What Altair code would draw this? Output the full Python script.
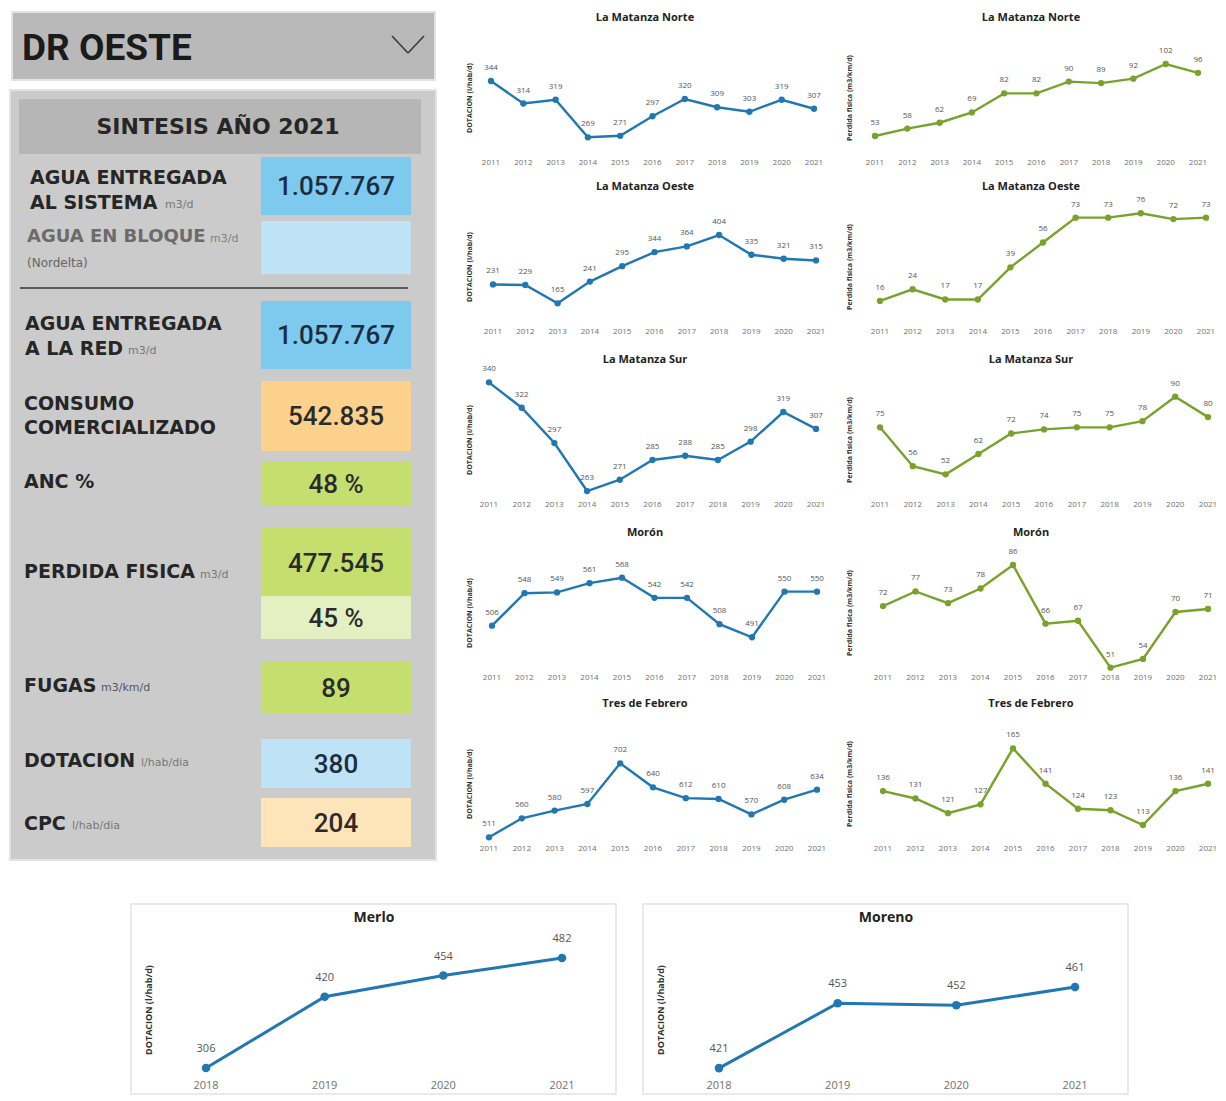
import altair as alt
import pandas as pd

# ---------------- data ----------------
YEARS = ["2011", "2012", "2013", "2014", "2015", "2016", "2017", "2018", "2019", "2020", "2021"]
DISTRICTS = ["La Matanza Norte", "La Matanza Oeste", "La Matanza Sur", "Morón", "Tres de Febrero"]

dot_la_matanza_norte = [344, 314, 319, 269, 271, 297, 320, 309, 303, 319, 307]
dot_la_matanza_oeste = [231, 229, 165, 241, 295, 344, 364, 404, 335, 321, 315]
dot_la_matanza_sur = [340, 322, 297, 263, 271, 285, 288, 285, 298, 319, 307]
dot_moron = [506, 548, 549, 561, 568, 542, 542, 508, 491, 550, 550]
dot_tres_de_febrero = [511, 560, 580, 597, 702, 640, 612, 610, 570, 608, 634]

pf_la_matanza_norte = [53, 58, 62, 69, 82, 82, 90, 89, 92, 102, 96]
pf_la_matanza_oeste = [16, 24, 17, 17, 39, 56, 73, 73, 76, 72, 73]
pf_la_matanza_sur = [75, 56, 52, 62, 72, 74, 75, 75, 78, 90, 80]
pf_moron = [72, 77, 73, 78, 86, 66, 67, 51, 54, 70, 71]
pf_tres_de_febrero = [136, 131, 121, 127, 165, 141, 124, 123, 113, 136, 141]

BOTTOM_YEARS = ["2018", "2019", "2020", "2021"]
dot_merlo = [306, 420, 454, 482]
dot_moreno = [421, 453, 452, 461]

HEADER = "DR OESTE"
SUBHEADER = "SINTESIS AÑO 2021"
kpi_values = ["1.057.767", "", "1.057.767", "542.835", "48 %", "477.545", "45 %", "89", "380", "204"]
label_main = ["AGUA ENTREGADA", "AL SISTEMA", "AGUA ENTREGADA", "A LA RED", "CONSUMO",
              "COMERCIALIZADO", "ANC %", "PERDIDA FISICA", "FUGAS", "DOTACION", "CPC"]
label_muted = ["AGUA EN BLOQUE"]
label_small = ["m3/d", "m3/d", "(Nordelta)", "m3/d", "m3/d", "m3/km/d", "l/hab/dia", "l/hab/dia"]

Y_TITLE_DOT = "DOTACION (l/hab/d)"
Y_TITLE_PF = "Perdida fisica (m3/km/d)"

# ---------------- styles / layout ----------------
F = "Open Sans"
BLUE = "#2077b2"
GREEN = "#79a22c"

# left panel (page coordinates)
PX0, PY0 = 8, 8
LEFT_W, LEFT_H = 432, 862
sx = alt.Scale(domain=[PX0, PX0 + LEFT_W], nice=False, zero=False)
sy = alt.Scale(domain=[PY0, PY0 + LEFT_H], nice=False, zero=False, reverse=True)

frame_boxes = [
    (12, 435, 12, 80, "#b9b9b9", "#e3e3e3"),
    (10, 436, 90, 860, "#cbcbcb", "#e3e3e3"),
    (20, 420, 100, 153, "#b6b6b6", "#b6b6b6"),
]
kpi_box_y = [(158, 214), (222, 273), (302, 368), (382, 450), (463, 505),
             (529, 597), (597, 638), (663, 712), (740, 787), (799, 846)]
kpi_box_fill = ["#7ec9ee", "#bfe3f6", "#7ec9ee", "#fcd18c", "#c5df6f",
                "#c5df6f", "#e4f0c1", "#c5df6f", "#bfe3f6", "#fde4b9"]
kpi_text_color = ["#1c2d40", "#1c2d40", "#1c2d40", "#2b2b2b", "#2b2b2b",
                  "#2b2b2b", "#2b2b2b", "#2b2b2b", "#1c2d40", "#2b2b2b"]
KPI_X1, KPI_X2 = 262, 410

label_main_pos = [(30, 178), (30, 203), (25, 324), (25, 349), (24, 404), (24, 428),
                  (24, 482), (24, 572), (24, 686), (24, 761), (24, 824)]
label_muted_pos = [(27, 237)]
label_small_pos = [(165, 205), (210, 239), (27, 263), (128, 351), (200, 575),
                   (101, 688), (141, 763), (72, 826)]
label_small_size = [11, 11, 12, 11, 11, 11, 11, 11]
label_small_color = ["#777777", "#808080", "#666666", "#777777", "#777777", "#555555", "#777777", "#777777"]

rect_rows = [dict(x1=a, x2=b, y1=c, y2=d, fill=f, stroke=s) for a, b, c, d, f, s in frame_boxes]
rect_rows += [dict(x1=KPI_X1, x2=KPI_X2, y1=y1, y2=y2, fill=f, stroke=f)
              for (y1, y2), f in zip(kpi_box_y, kpi_box_fill)]
rect_df = pd.DataFrame(rect_rows)

rects = alt.Chart(rect_df).mark_rect(strokeWidth=2).encode(
    x=alt.X("x1:Q", scale=sx, axis=None), x2="x2:Q",
    y=alt.Y("y1:Q", scale=sy, axis=None), y2="y2:Q",
    color=alt.Color("fill:N", scale=None),
    stroke=alt.Stroke("stroke:N", scale=None),
)

rule_df = pd.DataFrame([
    dict(x1=392, x2=408, y1=36, y2=53, c="#3a3a3a", w=1.6),
    dict(x1=408, x2=424, y1=53, y2=36, c="#3a3a3a", w=1.6),
    dict(x1=20, x2=408, y1=288, y2=288, c="#5a5a5a", w=2.2),
])
rules = alt.Chart(rule_df).mark_rule().encode(
    x=alt.X("x1:Q", scale=sx, axis=None), x2="x2:Q",
    y=alt.Y("y1:Q", scale=sy, axis=None), y2="y2:Q",
    color=alt.Color("c:N", scale=None),
    strokeWidth=alt.StrokeWidth("w:Q", scale=None),
)


def txt_df(texts, pos, **extra):
    d = pd.DataFrame({"text": texts, "x": [p[0] for p in pos], "y": [p[1] for p in pos]})
    for k, v in extra.items():
        d[k] = v
    return d


enc_xy = dict(x=alt.X("x:Q", scale=sx, axis=None), y=alt.Y("y:Q", scale=sy, axis=None), text="text:N")

header = alt.Chart(txt_df([HEADER], [(22, 49)])).mark_text(
    align="left", font="Roboto", fontWeight="bold", fontSize=37, color="#1b1b1b").encode(**enc_xy)
subheader = alt.Chart(txt_df([SUBHEADER], [(218, 127)])).mark_text(
    align="center", font="DejaVu Sans", fontWeight="bold", fontSize=22, color="#262626").encode(**enc_xy)
main_lbl = alt.Chart(txt_df(label_main, label_main_pos)).mark_text(
    align="left", font="DejaVu Sans", fontWeight="bold", fontSize=19, color="#262626").encode(**enc_xy)
muted_lbl = alt.Chart(txt_df(label_muted, label_muted_pos)).mark_text(
    align="left", font="DejaVu Sans", fontWeight="bold", fontSize=18, color="#6b6b6b").encode(**enc_xy)
small_lbl = alt.Chart(txt_df(label_small, label_small_pos, fs=label_small_size, c=label_small_color)).mark_text(
    align="left", font="DejaVu Sans").encode(
    size=alt.Size("fs:Q", scale=None), color=alt.Color("c:N", scale=None), **enc_xy)
val_pos = [((KPI_X1 + KPI_X2) / 2, (a + b) / 2 + 1) for a, b in kpi_box_y]
values_lbl = alt.Chart(txt_df(kpi_values, val_pos, c=kpi_text_color)).mark_text(
    align="center", font="Roboto", fontSize=26, fontWeight=500).encode(
    color=alt.Color("c:N", scale=None), **enc_xy)

left_panel = alt.layer(rects, rules, header, subheader, main_lbl, muted_lbl, small_lbl, values_lbl).properties(
    width=LEFT_W, height=LEFT_H)

# small charts
ROW_H = [169, 173, 173, 171, 172]
BLUE_W, GREEN_W = 390, 388
blue_dom = [[248.1, 407.9], [99.6, 519.5], [260.2, 345.2], [451.3, 606.4], [506.6, 816.4]]
green_dom = [[41.4, 123.1], [1.6, 83.7], [41.9, 100.6], [50.9, 91.8], [103.5, 184.9]]
blue_xr = [[51, 374], [53, 376], [49, 376], [52, 377], [49, 377]]
green_xr = [[45, 368], [50, 376], [50, 378], [53, 378], [53, 378]]


def small_chart(title, values, color, ytitle, ydom, xr, w, h, title_x, ytitle_x):
    df = pd.DataFrame({"year": YEARS, "value": values})
    df["label"] = df["value"].astype(str)
    xs = alt.X("year:O", scale=alt.Scale(type="point", range=xr, padding=0), axis=None)
    ys = alt.Y("value:Q", scale=alt.Scale(domain=ydom, range=[145, 25], nice=False, zero=False), axis=None)
    base = alt.Chart(df)
    line = base.mark_line(color=color, strokeWidth=2.4).encode(x=xs, y=ys)
    pts = base.mark_circle(color=color, size=40, opacity=1).encode(x=xs, y=ys)
    lbl = base.mark_text(font=F, fontSize=8, color="#555555", dy=-13).encode(x=xs, y=ys, text="label:N")
    yl = base.mark_text(font=F, fontSize=8, color="#707070").encode(x=xs, y=alt.value(155), text="year:N")
    tt = alt.Chart(pd.DataFrame({"t": [title]})).mark_text(
        font=F, fontSize=11, fontWeight="bold", color="#222222").encode(
        x=alt.value(title_x), y=alt.value(10), text="t:N")
    yt = alt.Chart(pd.DataFrame({"t": [ytitle]})).mark_text(
        font=F, fontSize=7, fontWeight="bold", color="#333333", angle=270).encode(
        x=alt.value(ytitle_x), y=alt.value(90), text="t:N")
    return alt.layer(line, pts, lbl, yl, tt, yt).properties(width=w, height=h)


dot_series = [dot_la_matanza_norte, dot_la_matanza_oeste, dot_la_matanza_sur, dot_moron, dot_tres_de_febrero]
pf_series = [pf_la_matanza_norte, pf_la_matanza_oeste, pf_la_matanza_sur, pf_moron, pf_tres_de_febrero]

rows = []
for i, name in enumerate(DISTRICTS):
    b = small_chart(name, dot_series[i], BLUE, Y_TITLE_DOT, blue_dom[i], blue_xr[i], BLUE_W, ROW_H[i], 205, 30)
    g = small_chart(name, pf_series[i], GREEN, Y_TITLE_PF, green_dom[i], green_xr[i], GREEN_W, ROW_H[i], 201, 20)
    rows.append(alt.hconcat(b, g, spacing=0))
grid = alt.vconcat(*rows, spacing=0)


def bottom_chart(title, values, ydom, xr):
    w, h = 485, 190
    df = pd.DataFrame({"year": BOTTOM_YEARS, "value": values})
    df["label"] = df["value"].astype(str)
    xs = alt.X("year:O", scale=alt.Scale(type="point", range=xr, padding=0), axis=None)
    ys = alt.Y("value:Q", scale=alt.Scale(domain=ydom, range=[h, 0], nice=False, zero=False), axis=None)
    base = alt.Chart(df)
    line = base.mark_line(color=BLUE, strokeWidth=3).encode(x=xs, y=ys)
    pts = base.mark_circle(color=BLUE, size=75, opacity=1).encode(x=xs, y=ys)
    lbl = base.mark_text(font=F, fontSize=11, color="#555555", dy=-19).encode(x=xs, y=ys, text="label:N")
    yl = base.mark_text(font=F, fontSize=11, color="#707070").encode(x=xs, y=alt.value(182), text="year:N")
    tt = alt.Chart(pd.DataFrame({"t": [title]})).mark_text(
        font=F, fontSize=14, fontWeight="bold", color="#222222").encode(
        x=alt.value(243), y=alt.value(14), text="t:N")
    yt = alt.Chart(pd.DataFrame({"t": [Y_TITLE_DOT]})).mark_text(
        font=F, fontSize=9, fontWeight="bold", color="#333333", angle=270).encode(
        x=alt.value(18), y=alt.value(106), text="t:N")
    return alt.layer(line, pts, lbl, yl, tt, yt).properties(
        width=w, height=h, view=alt.ViewBackground(stroke="#e4e4e4", strokeWidth=1.5))


def spacer(w, h):
    return alt.Chart(pd.DataFrame({"s": [0]})).mark_point(opacity=0, size=1).encode(
        x=alt.value(w / 2), y=alt.value(h / 2)).properties(width=w, height=h)


merlo = bottom_chart("Merlo", dot_merlo, [264.4, 568.4], [75, 431])
moreno = bottom_chart("Moreno", dot_moreno, [408.2, 502.0], [76, 432])

top = alt.hconcat(left_panel, grid, spacing=0)
bottom = alt.hconcat(spacer(122, 190), merlo, spacer(25, 190), moreno, spacing=0)

chart = alt.vconcat(top, bottom, spacing=33).properties(
    padding=0, background="white").configure_view(strokeWidth=0)

chart.save("out.html", embed_options={"renderer": "svg", "actions": False})
